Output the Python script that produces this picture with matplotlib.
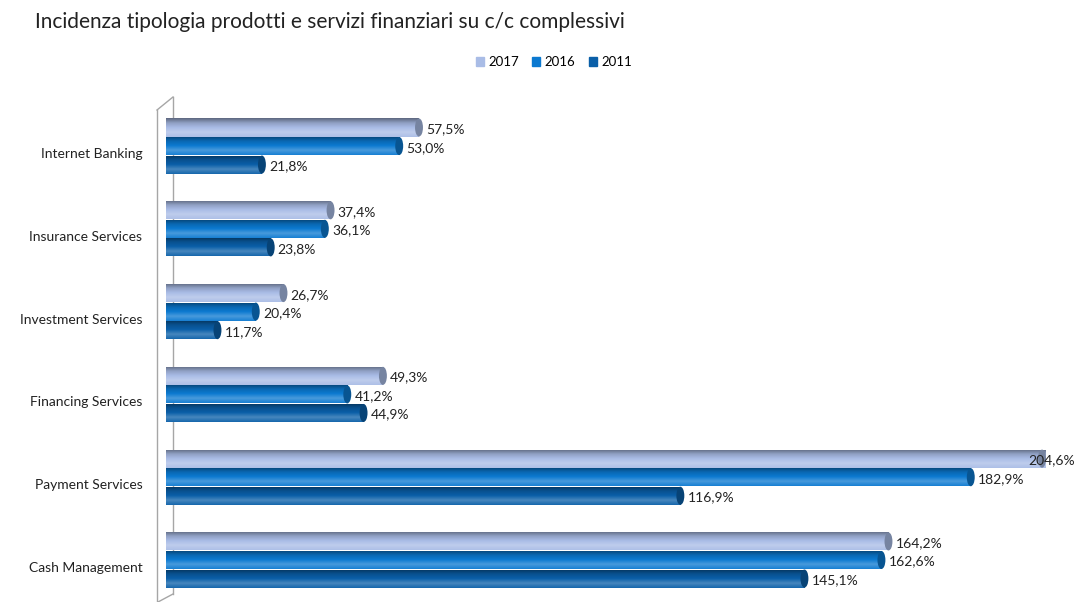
import numpy as np
import matplotlib.pyplot as plt
from matplotlib.colors import LinearSegmentedColormap, to_rgb
from matplotlib.patches import Ellipse, Rectangle
from matplotlib.lines import Line2D

plt.rcParams["font.family"] = ["Lato", "DejaVu Sans"]

categories = ["Internet Banking", "Insurance Services", "Investment Services",
              "Financing Services", "Payment Services", "Cash Management"]
years = ["2017", "2016", "2011"]
values_2017 = [57.5, 37.4, 26.7, 49.3, 204.6, 164.2]
values_2016 = [53.0, 36.1, 20.4, 41.2, 182.9, 162.6]
values_2011 = [21.8, 23.8, 11.7, 44.9, 116.9, 145.1]
series = [values_2017, values_2016, values_2011]
colors = ["#a9bce6", "#0b79d0", "#0a5fa8"]
x_max = 200


def shade(color, f):
    r = np.array(to_rgb(color))
    if f >= 0:
        return tuple(r + (1 - r) * f)
    return tuple(r * (1 + f))


W, H = 1076, 602
fig = plt.figure(figsize=(W / 100, H / 100), dpi=100)
ax = fig.add_axes([166 / W, 4 / H, 880 / W, 498 / H])
ax.patch.set_visible(False)

y = np.arange(len(categories))
bar_h = 0.218
step = 0.224

for i, (vals, col) in enumerate(zip(series, colors)):
    cmap = LinearSegmentedColormap.from_list(
        "c%d" % i,
        [shade(col, -0.45), shade(col, -0.15), col, shade(col, 0.25), shade(col, 0.05)])
    pos = y + (i - 1) * step
    bars = ax.barh(pos, vals, height=bar_h, color=col, edgecolor="none", zorder=2)
    for b, v in zip(bars, vals):
        x0, y0 = b.get_x(), b.get_y()
        w, h = b.get_width(), b.get_height()
        # clip the shading to the visible part of the bar (axis stops at x_max)
        clip = Rectangle((x0, y0), min(w, x_max), h, transform=ax.transData)
        grad = np.linspace(0, 1, 64).reshape(-1, 1)
        im = ax.imshow(grad, cmap=cmap, aspect="auto", origin="upper",
                       extent=(x0, x0 + w, y0 + h, y0), zorder=3)
        im.set_clip_path(clip)
        cap_x = min(x0 + w, x_max - 0.9)
        cap = Ellipse((cap_x, y0 + h / 2), 1.8, h, facecolor=shade(col, -0.3),
                      edgecolor="none", zorder=4)
        ax.add_patch(cap)
        lx = min(x0 + w + 1.6, x_max - 4)
        ax.text(lx, y0 + h / 2 + 0.02, ("%.1f%%" % v).replace(".", ","),
                va="center", ha="left", fontsize=10, color="#222222", zorder=5,
                clip_on=False)

ax.set_xlim(0, x_max)
ax.set_ylim(len(categories) - 1 + 0.459, -0.556)
ax.set_yticks(y + 0.085)
ax.set_yticklabels(categories, fontsize=10, color="#222222")
ax.tick_params(axis="y", length=0, pad=17)
ax.set_xticks([])
for s in ax.spines.values():
    s.set_visible(False)

# side wall of the 3-D plot area, behind the bars
wall = "#a6a6a6"
for xs, ys in [((157, 157), (110, 602)), ((157, 173), (110, 97)),
               ((173, 173), (97, 594)), ((173, 158), (594, 602))]:
    fig.add_artist(Line2D([x / W for x in xs], [1 - v / H for v in ys],
                          color=wall, lw=1.0, zorder=-1))

fig.text(35 / W, 1 - 22 / H, "Incidenza tipologia prodotti e servizi finanziari su c/c complessivi",
         fontsize=15, va="center", ha="left", color="#222222")

handles = [plt.Rectangle((0, 0), 1, 1, color=c) for c in colors]
fig.legend(handles, years, loc="center", bbox_to_anchor=(554 / W, 1 - 62 / H),
           ncol=3, frameon=False, fontsize=9.5, handlelength=0.6, handleheight=0.6,
           columnspacing=1.0, handletextpad=0.35)

fig.savefig("out.png", dpi=100)
